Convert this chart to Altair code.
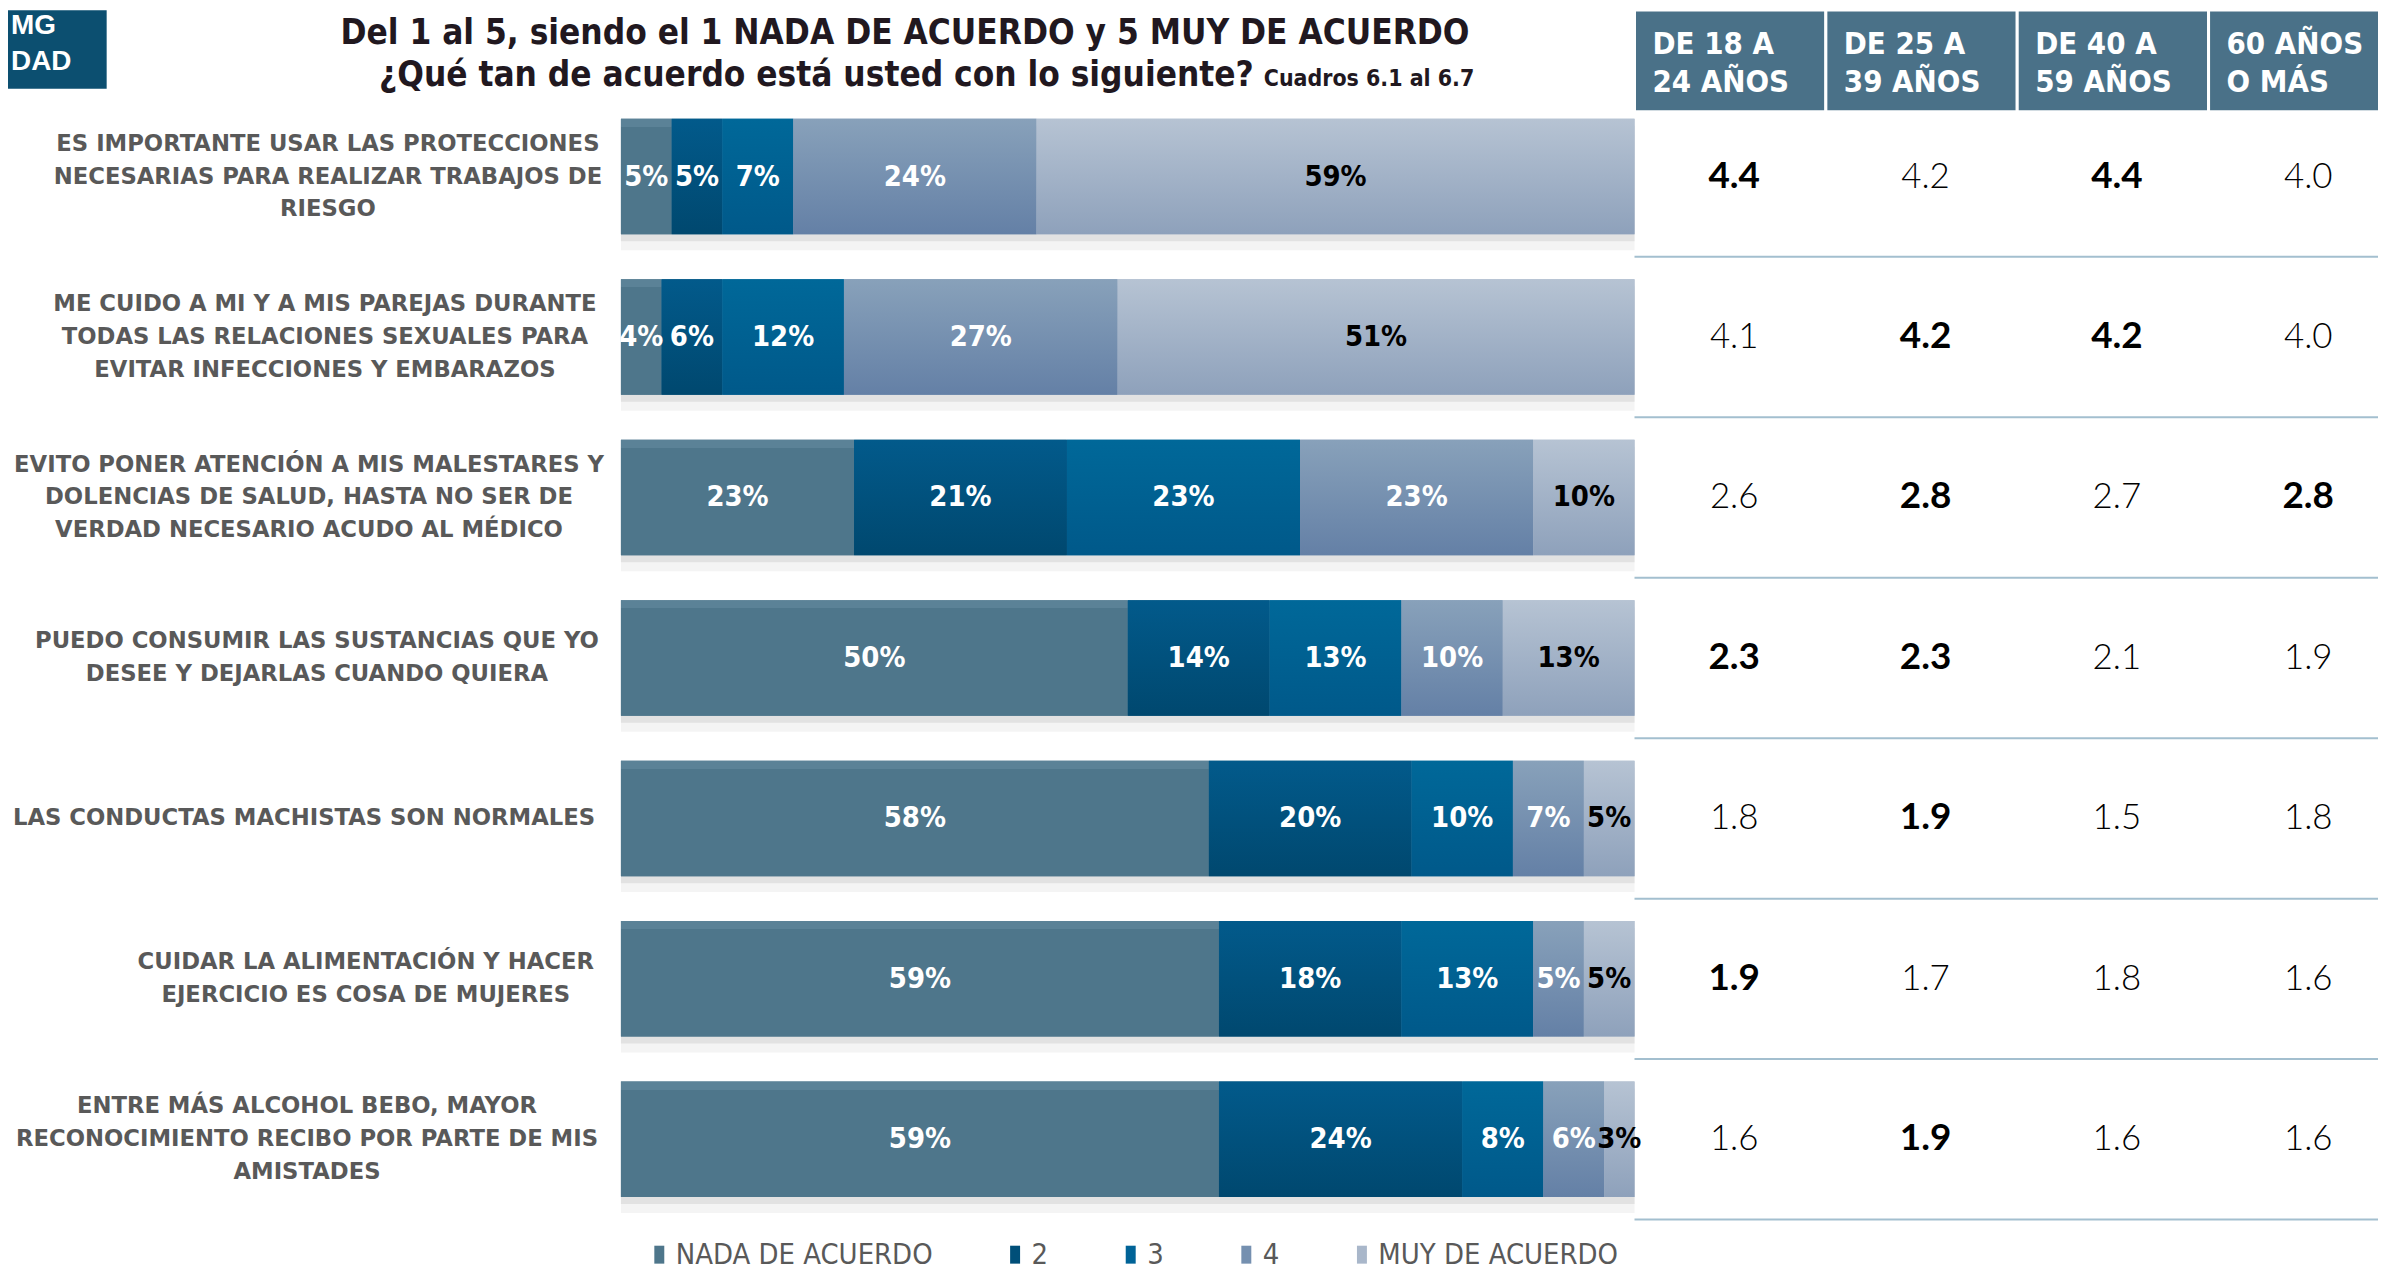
import altair as alt
import pandas as pd

# ---------------- data ----------------
statements = [
    "ES IMPORTANTE USAR LAS PROTECCIONES\nNECESARIAS PARA REALIZAR TRABAJOS DE\nRIESGO",
    "ME CUIDO A MI Y A MIS PAREJAS DURANTE\nTODAS LAS RELACIONES SEXUALES PARA\nEVITAR INFECCIONES Y EMBARAZOS",
    "EVITO PONER ATENCIÓN A MIS MALESTARES Y\nDOLENCIAS DE SALUD, HASTA NO SER DE\nVERDAD NECESARIO ACUDO AL MÉDICO",
    "PUEDO CONSUMIR LAS SUSTANCIAS QUE YO\nDESEE Y DEJARLAS CUANDO QUIERA",
    "LAS CONDUCTAS MACHISTAS SON NORMALES",
    "CUIDAR LA ALIMENTACIÓN Y HACER\nEJERCICIO ES COSA DE MUJERES",
    "ENTRE MÁS ALCOHOL BEBO, MAYOR\nRECONOCIMIENTO RECIBO POR PARTE DE MIS\nAMISTADES",
]
categories = ["NADA DE ACUERDO", "2", "3", "4", "MUY DE ACUERDO"]
pct_nada = [5, 4, 23, 50, 58, 59, 59]
pct_2 = [5, 6, 21, 14, 20, 18, 24]
pct_3 = [7, 12, 23, 13, 10, 13, 8]
pct_4 = [24, 27, 23, 10, 7, 5, 6]
pct_muy = [59, 51, 10, 13, 5, 5, 3]

ages = ["DE 18 A\n24 AÑOS", "DE 25 A\n39 AÑOS", "DE 40 A\n59 AÑOS", "60 AÑOS\nO MÁS"]
avg_18_24 = [4.4, 4.1, 2.6, 2.3, 1.8, 1.9, 1.6]
avg_25_39 = [4.2, 4.2, 2.8, 2.3, 1.9, 1.7, 1.9]
avg_40_59 = [4.4, 4.2, 2.7, 2.1, 1.5, 1.8, 1.6]
avg_60 = [4.0, 4.0, 2.8, 1.9, 1.8, 1.6, 1.6]

title_1 = "Del 1 al 5, siendo el 1 NADA DE ACUERDO y 5 MUY DE ACUERDO"
title_2 = "¿Qué tan de acuerdo está usted con lo siguiente?"
title_src = "Cuadros 6.1 al 6.7"
corner_lines = ["MG", "DAD"]

# ---------------- styling / layout ----------------
legend_colors = ["#4e768b", "#004f79", "#006397", "#7590b0", "#a9b7ca"]
gradients = {
    "NADA DE ACUERDO": [("#5b8297", 0), ("#5b8297", 0.07), ("#4e768b", 0.07), ("#4e768b", 1)],
    "2": [("#025a8b", 0), ("#00486f", 1)],
    "3": [("#006899", 0), ("#00598a", 1)],
    "4": [("#88a1ba", 0), ("#6480a6", 1)],
    "MUY DE ACUERDO": [("#b6c3d3", 0), ("#8ea1bb", 1)],
}
label_centers = [321, 318, 302, 310, 297, 359, 300]
LINE_H = 33

COND = "Liberation Sans Narrow, DejaVu Sans Condensed, Arial Narrow, sans-serif"
LABEL_FONT = "DejaVu Sans, Verdana, sans-serif"
NUM_FONT = "Lato, Open Sans, sans-serif"

W, H = 2378, 1265

# ---------------- tables ----------------
cols = [pct_nada, pct_2, pct_3, pct_4, pct_muy]
bar_rows = []
for i, s in enumerate(statements):
    for ci, (c, arr) in enumerate(zip(categories, cols)):
        bar_rows.append({"stmt": s, "cat": c, "ci": ci, "pct": arr[i]})
bars_df = pd.DataFrame(bar_rows)

tab_rows = []
for a, arr in zip(ages, [avg_18_24, avg_25_39, avg_40_59, avg_60]):
    for i, s in enumerate(statements):
        tab_rows.append({"stmt": s, "age": a, "val": arr[i]})
tab_df = pd.DataFrame(tab_rows)

stmt_df = pd.DataFrame({"stmt": statements, "lx": label_centers,
                        "nl": [s.count("\n") + 1 for s in statements]})

Y = alt.Y("stmt:N", axis=None,
          scale=alt.Scale(domain=statements, range=[86.5, 1213.5],
                          paddingInner=0.28, paddingOuter=0.14))
XS = alt.Scale(domain=[0, 100], range=[615, 1632])
XA = alt.X("age:N", axis=None,
           scale=alt.Scale(domain=ages, range=[1632, 2400], paddingInner=0, paddingOuter=0))

stacked = alt.Chart(bars_df).transform_stack(
    stack="pct", groupby=["stmt"], as_=["x0", "x1"],
    sort=[alt.SortField("ci", order="ascending")])

layers = []

# corner box
corner = alt.Chart(pd.DataFrame({"k": [0]})).mark_rect(color="#0c4f70").encode(
    x=alt.value(0), x2=alt.value(99), y=alt.value(0), y2=alt.value(79))
layers.append(corner)
for t, yy in zip(corner_lines, [16, 52]):
    layers.append(alt.Chart(pd.DataFrame({"t": [t]})).mark_text(
        align="left", baseline="middle", font="Liberation Sans, Arial, sans-serif",
        fontWeight="bold", fontSize=28, color="white").encode(
        x=alt.value(3), y=alt.value(yy), text="t:N"))

# titles
TITLE_C = "#21181f"
layers.append(alt.Chart(pd.DataFrame({"t": [title_1]})).mark_text(
    align="center", baseline="alphabetic", font=COND, fontWeight="bold",
    fontSize=35, color=TITLE_C).encode(x=alt.value(900), y=alt.value(34), text="t:N"))
layers.append(alt.Chart(pd.DataFrame({"t": [title_2]})).mark_text(
    align="right", baseline="alphabetic", font=COND, fontWeight="bold",
    fontSize=35, color=TITLE_C).encode(x=alt.value(1250), y=alt.value(76), text="t:N"))
layers.append(alt.Chart(pd.DataFrame({"t": [title_src]})).mark_text(
    align="left", baseline="alphabetic", font=COND, fontWeight="bold",
    fontSize=23, color=TITLE_C).encode(x=alt.value(1260), y=alt.value(76), text="t:N"))

# bar shadows
sh = alt.Chart(stmt_df)
layers.append(sh.mark_bar(color="#f4f4f4", yOffset=16).encode(
    x=alt.X(datum=0, type="quantitative", scale=XS, axis=None), x2=alt.X2(datum=100), y=Y))
layers.append(sh.mark_bar(color="#e2e2e2", yOffset=7).encode(
    x=alt.X(datum=0, type="quantitative", scale=XS, axis=None), x2=alt.X2(datum=100), y=Y))

# base stacked bars (carry the legend)
layers.append(stacked.mark_bar().encode(
    x=alt.X("x0:Q", scale=XS, axis=None), x2="x1:Q", y=Y,
    color=alt.Color("cat:N", scale=alt.Scale(domain=categories, range=legend_colors),
                    legend=alt.Legend(
                        orient="none", legendX=639, legendY=1234, direction="horizontal",
                        title=None, symbolType="M-0.5,-0.9H0.5V0.9H-0.5Z",
                        symbolSize=400, symbolStrokeWidth=0, symbolOpacity=1,
                        labelFont=COND, labelFontSize=29, labelColor="#595959",
                        labelOffset=2, columnPadding=68, labelLimit=500, padding=0))))

# gradient overlays
for c in categories:
    grad = alt.LinearGradient(
        gradient="linear", x1=0, x2=0, y1=0, y2=1,
        stops=[alt.GradientStop(color=col, offset=off) for col, off in gradients[c]])
    layers.append(stacked.transform_filter(alt.datum.cat == c).mark_bar(color=grad).encode(
        x=alt.X("x0:Q", scale=XS, axis=None), x2="x1:Q", y=Y))

# percentage labels
layers.append(stacked.transform_calculate(
    xm="(datum.x0 + datum.x1) / 2", lbl="datum.pct + '%'").mark_text(
    font=COND, fontWeight="bold", fontSize=29, baseline="middle").encode(
    x=alt.X("xm:Q", scale=XS, axis=None), y=Y, text="lbl:N",
    color=alt.condition(alt.datum.cat == "MUY DE ACUERDO", alt.value("#000000"), alt.value("#ffffff"))))

# statement labels (multi-line blocks centred on the row)
for n in sorted(set(stmt_df["nl"])):
    layers.append(alt.Chart(stmt_df).transform_filter(alt.datum.nl == n).mark_text(
        align="center", baseline="middle", lineBreak="\n", lineHeight=LINE_H,
        dy=-(n - 1) * LINE_H / 2,
        font=LABEL_FONT, fontWeight="bold", fontSize=22.8, color="#595959").encode(
        x=alt.X("lx:Q", scale=None), y=Y, text="stmt:N"))

# table header
hdr = alt.Chart(pd.DataFrame({"age": ages}))
layers.append(hdr.mark_rect(color="#4a7188", stroke="white", strokeWidth=3).encode(
    x=XA, y=alt.value(0), y2=alt.value(102)))
layers.append(hdr.mark_text(
    align="left", baseline="middle", lineBreak="\n", lineHeight=38, xOffset=-78,
    font=COND, fontWeight="bold", fontSize=31, color="white").encode(
    x=XA, y=alt.value(35), text="age:N"))

# table separators
layers.append(alt.Chart(stmt_df).mark_rule(color="#a3bfcf", strokeWidth=2, yOffset=80.5).encode(
    x=alt.value(1632), x2=alt.value(2378), y=Y))

# table values
tab = alt.Chart(tab_df).transform_joinaggregate(mx="max(val)", groupby=["stmt"])
layers.append(tab.transform_filter("datum.val >= datum.mx").mark_text(
    font=NUM_FONT, fontWeight="bold", fontSize=37, color="#000000", baseline="middle", dx=4).encode(
    x=XA, y=Y, text=alt.Text("val:Q", format=".1f")))
layers.append(tab.transform_filter("datum.val < datum.mx").mark_text(
    font=NUM_FONT, fontWeight=300, fontSize=35, color="#000000", baseline="middle", dx=4).encode(
    x=XA, y=Y, text=alt.Text("val:Q", format=".1f")))

chart = alt.layer(*layers).resolve_scale(x="independent").properties(
    width=W, height=H, autosize=alt.AutoSizeParams(type="none"), padding=0,
    background="white").configure_view(stroke=None)

chart.save("out.html", embed_options={"renderer": "svg", "actions": False})
